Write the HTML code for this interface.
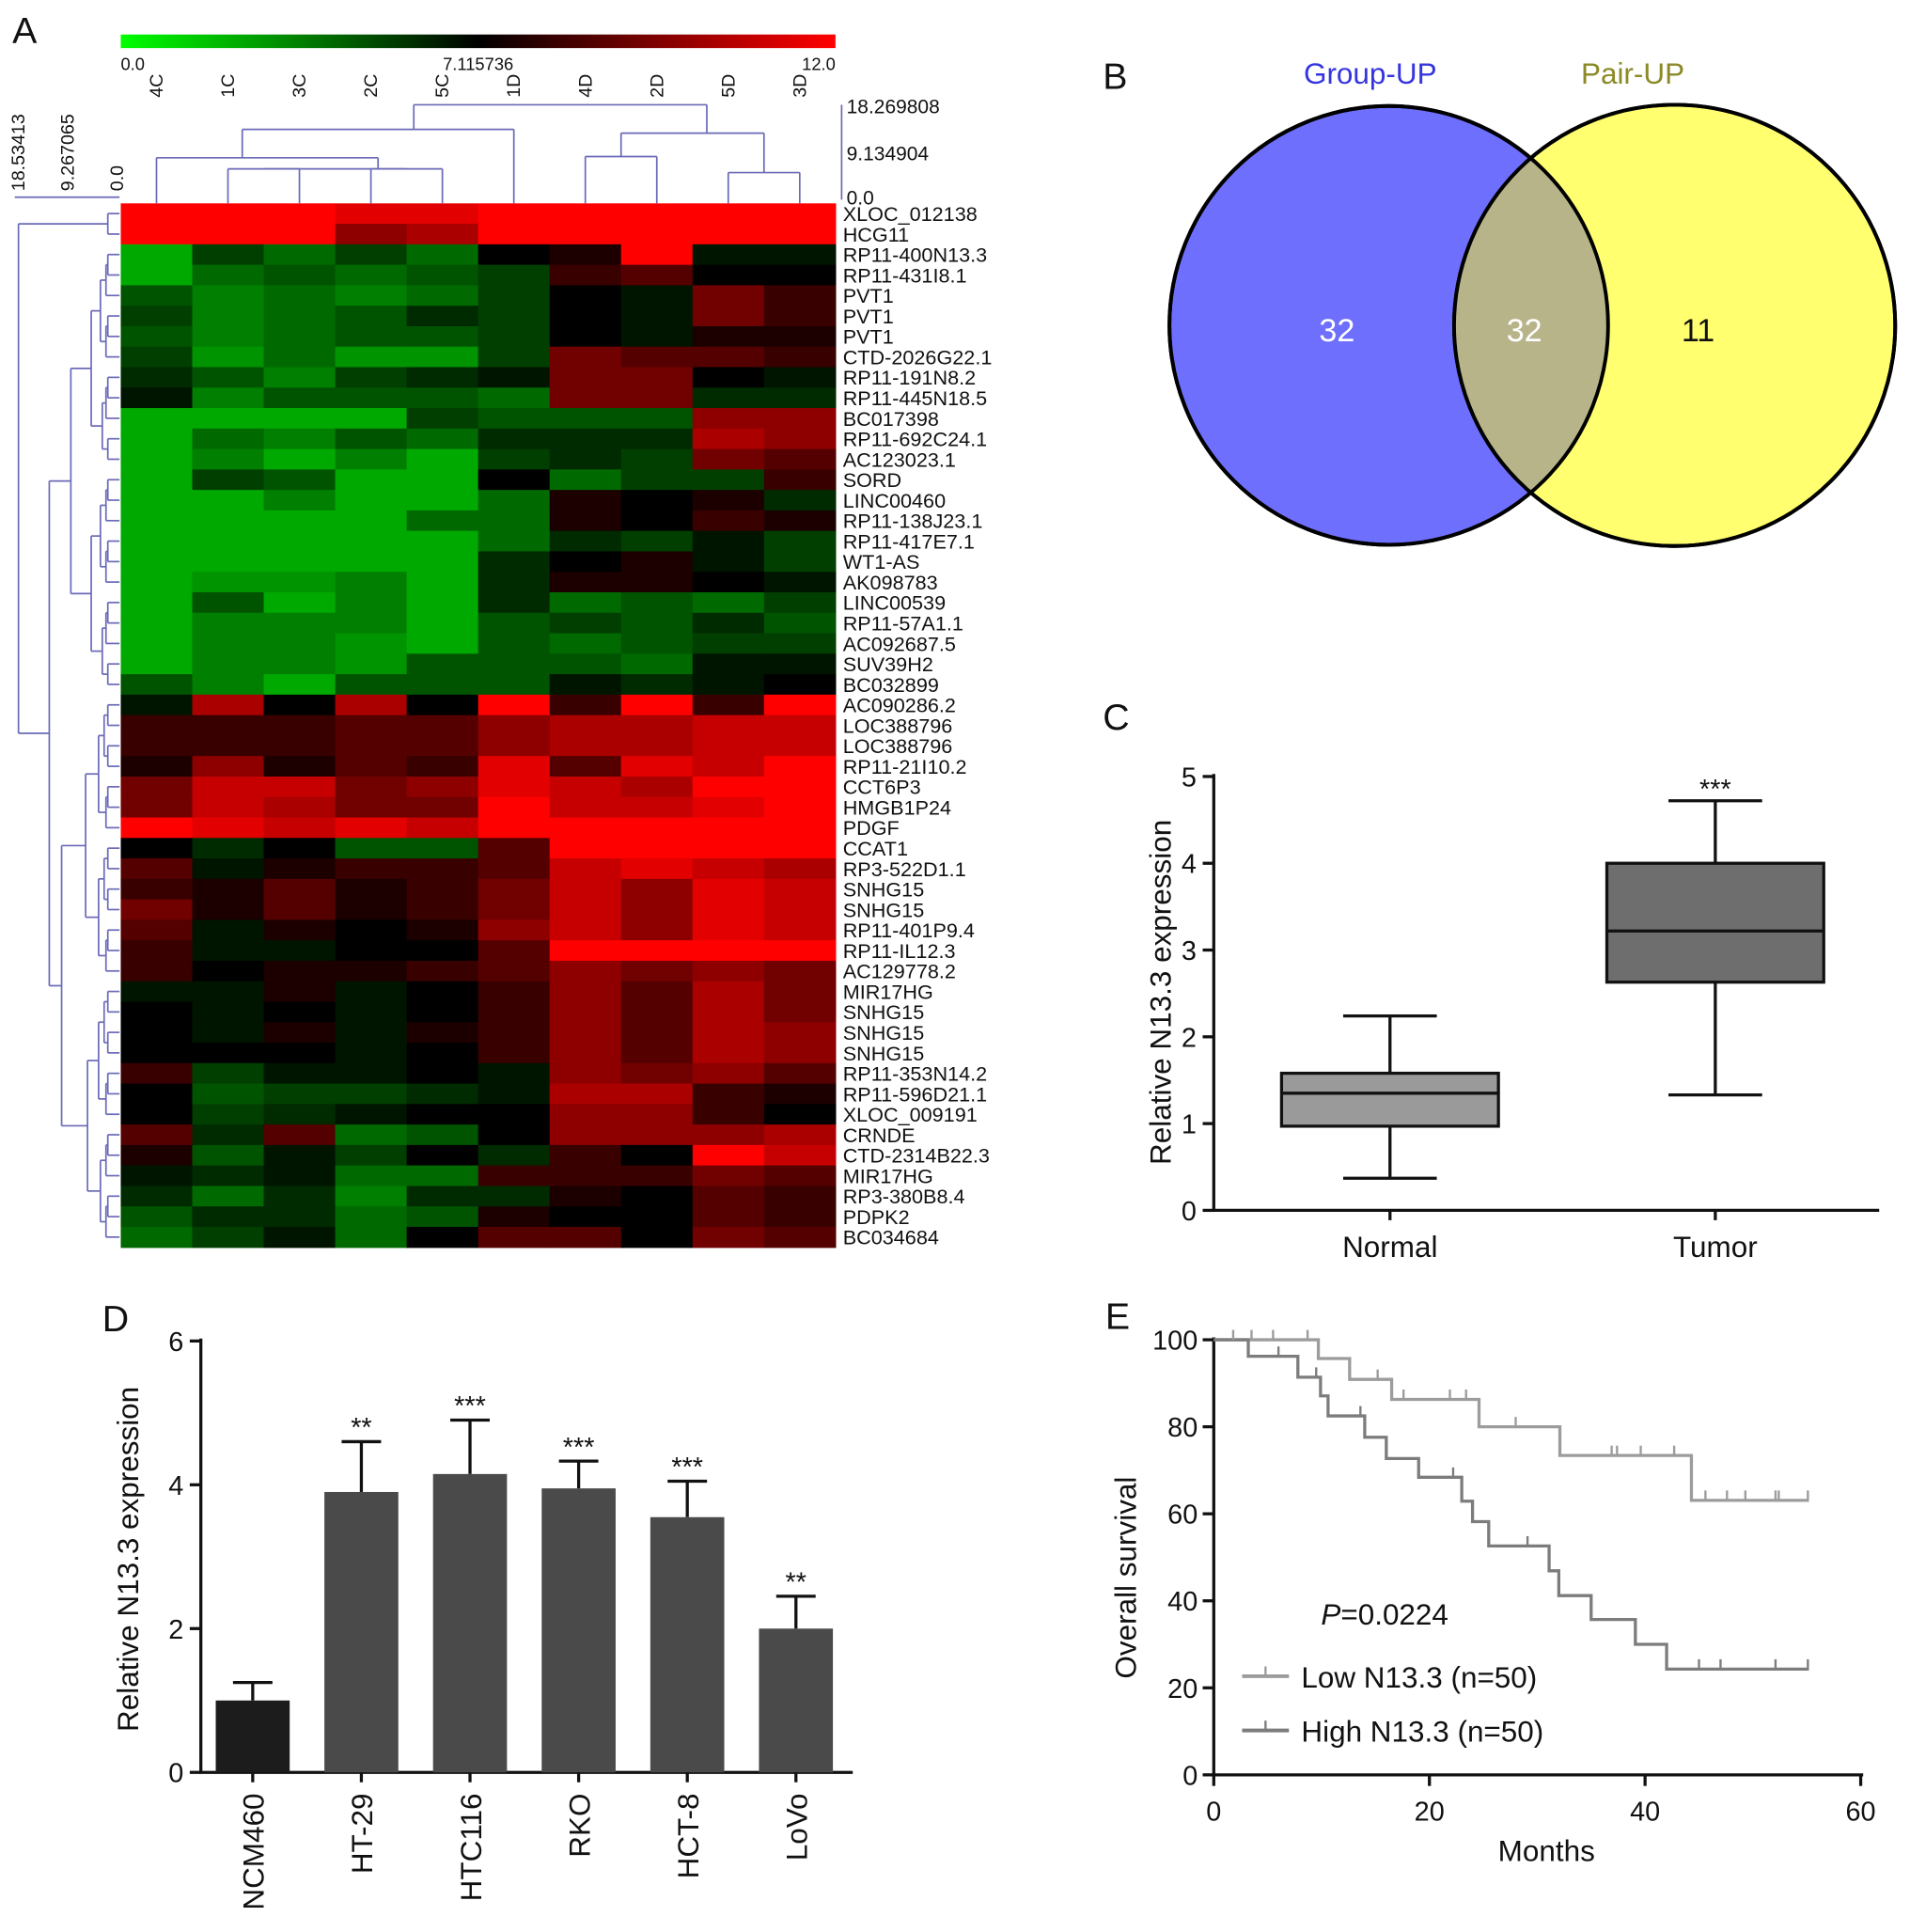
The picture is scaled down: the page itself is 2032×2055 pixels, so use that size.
<!DOCTYPE html>
<html><head><meta charset="utf-8"><style>
html,body{margin:0;padding:0;background:#fff}
svg{display:block;font-family:"Liberation Sans",Arial,sans-serif}
</style></head><body>
<svg id="fig" xmlns="http://www.w3.org/2000/svg" width="2032" height="2055" viewBox="0 0 1550 1567.5" preserveAspectRatio="none">
<defs><linearGradient id="cb" x1="0" x2="1" y1="0" y2="0"><stop offset="0" stop-color="#00ff00"/><stop offset="0.5" stop-color="#000"/><stop offset="1" stop-color="#ff0000"/></linearGradient></defs>
<g id="pa"></g>
<g id="pb"></g>
<g id="pc"></g>
<g id="pd"></g>
<g id="pe"></g>
</svg>
<script>
// ---------- Panel A data ----------
const hmCols = ["4C","1C","3C","2C","5C","1D","4D","2D","5D","3D"];
const hmRows = ["XLOC_012138","HCG11","RP11-400N13.3","RP11-431I8.1","PVT1","PVT1","PVT1","CTD-2026G22.1","RP11-191N8.2","RP11-445N18.5","BC017398","RP11-692C24.1","AC123023.1","SORD","LINC00460","RP11-138J23.1","RP11-417E7.1","WT1-AS","AK098783","LINC00539","RP11-57A1.1","AC092687.5","SUV39H2","BC032899","AC090286.2","LOC388796","LOC388796","RP11-21I10.2","CCT6P3","HMGB1P24","PDGF","CCAT1","RP3-522D1.1","SNHG15","SNHG15","RP11-401P9.4","RP11-IL12.3","AC129778.2","MIR17HG","SNHG15","SNHG15","SNHG15","RP11-353N14.2","RP11-596D21.1","XLOC_009191","CRNDE","CTD-2314B22.3","MIR17HG","RP3-380B8.4","PDPK2","BC034684"];
const hmVals = [
[9,9,9,8,8,9,9,9,9,9],[9,9,9,5,6,9,9,9,9,9],[-8,-3,-5,-3,-5,0,1,9,-1,-1],[-8,-5,-4,-5,-4,-3,2,3,0,0],
[-4,-6,-5,-6,-5,-3,0,-1,4,2],[-3,-6,-5,-4,-2,-3,0,-1,4,2],[-4,-6,-5,-4,-4,-3,0,-1,1,1],[-3,-7,-5,-7,-7,-3,4,3,3,2],
[-2,-4,-6,-3,-2,-1,4,4,0,-1],[-1,-6,-4,-4,-4,-5,4,4,-2,-2],[-8,-8,-8,-8,-3,-4,-4,-4,5,5],[-8,-5,-6,-4,-5,-2,-2,-2,6,5],
[-8,-6,-8,-6,-8,-3,-2,-3,4,3],[-8,-3,-4,-8,-8,0,-5,-3,-3,2],[-8,-8,-6,-8,-8,-5,1,0,1,-2],[-8,-8,-8,-8,-5,-5,1,0,2,1],
[-8,-8,-8,-8,-8,-5,-2,-3,-1,-3],[-8,-8,-8,-8,-8,-2,0,1,-1,-3],[-8,-7,-7,-6,-8,-2,1,1,0,-1],[-8,-4,-8,-6,-8,-2,-5,-4,-5,-3],
[-8,-6,-6,-6,-8,-4,-3,-4,-2,-4],[-8,-6,-6,-7,-8,-4,-5,-4,-3,-3],[-8,-6,-6,-7,-4,-4,-4,-5,-1,-1],[-4,-6,-8,-4,-4,-4,-1,-2,-1,0],
[-1,6,0,6,0,9,2,9,2,9],[2,2,2,3,3,5,6,6,7,7],[2,2,2,3,3,5,6,6,7,7],[1,5,1,3,2,8,3,8,7,9],
[4,7,7,4,5,8,7,6,9,9],[4,7,6,4,4,9,7,7,8,9],[9,8,7,8,7,9,9,9,9,9],[0,-2,0,-4,-4,3,9,9,9,9],
[3,-1,1,2,2,3,7,8,7,6],[2,1,3,1,2,4,7,5,8,7],[4,1,3,1,2,4,7,5,8,7],[3,-1,1,0,1,5,7,5,8,7],
[2,-1,-1,0,0,3,9,9,9,9],[2,0,1,1,2,3,5,4,5,4],[-1,-1,1,-1,0,2,5,3,6,4],[0,-1,0,-1,0,2,5,3,6,4],
[0,-1,1,-1,1,2,5,3,6,5],[0,0,0,-1,0,2,5,3,6,5],[2,-3,-1,-1,0,-1,5,4,5,3],[0,-4,-3,-3,-2,-1,6,6,2,1],
[0,-3,-2,-1,0,0,5,5,2,0],[3,-2,3,-5,-4,0,5,5,5,6],[1,-4,-1,-3,0,-2,2,0,9,7],[-1,-2,-1,-5,-5,2,2,2,4,3],
[-2,-5,-2,-6,-2,-2,1,0,3,2],[-4,-2,-2,-5,-4,1,0,0,3,2],[-5,-3,-1,-5,0,3,3,0,4,3]];
// ---------- Panel B ----------
const vennCounts = [32, 32, 11];
// ---------- Panel C ----------
const boxCats = ["Normal","Tumor"];
const boxMin = [0.37, 1.33];
const boxQ1 = [0.97, 2.63];
const boxMed = [1.35, 3.22];
const boxQ3 = [1.58, 4.0];
const boxMax = [2.24, 4.72];
// ---------- Panel D ----------
const barCats = ["NCM460","HT-29","HTC116","RKO","HCT-8","LoVo"];
const barVals = [1.0, 3.9, 4.15, 3.95, 3.55, 2.0];
const barErr = [0.25, 0.7, 0.75, 0.38, 0.5, 0.45];
const barSig = ["", "**", "***", "***", "***", "**"];
// ---------- Panel E ----------
const lowT = [0, 9.7, 12.6, 16.5, 24.6, 32.1, 44.3, 55.2];
const lowS = [100, 95.7, 90.9, 86.3, 80, 73.4, 63.1, 63.1];
const lowCensT = [1.8, 3.5, 5.5, 8.7, 15.2, 17.6, 21.9, 23.4, 28, 36.9, 37.4, 39.6, 42.7, 45.6, 47.6, 49.3, 52.1, 52.4, 55.1];
const highT = [0, 3.2, 7.8, 9.9, 10.6, 14.0, 16.0, 19.0, 23.0, 24.0, 25.5, 31.1, 32.0, 35.0, 39.1, 42.0, 55.2];
const highS = [100, 96.2, 91.4, 87.1, 82.5, 77.6, 72.7, 68.4, 62.9, 58.2, 52.6, 46.9, 41.2, 35.7, 30, 24.3, 24.3];
const highCensT = [6.0, 9.5, 13.6, 22.2, 29.1, 45, 47, 52.1, 55.1];
const eXTicks = [0, 20, 40, 60];
const eYTicks = [0, 20, 40, 60, 80, 100];

const NS = "http://www.w3.org/2000/svg";
function el(parent, tag, attrs, text) {
  const e = document.createElementNS(NS, tag);
  for (const k in attrs) e.setAttribute(k, attrs[k]);
  if (text !== undefined) e.textContent = text;
  parent.appendChild(e);
  return e;
}
function txt(parent, x, y, s, size, opts) {
  const o = Object.assign({x: x, y: y, "font-size": size, fill: "#111"}, opts || {});
  return el(parent, "text", o, s);
}
function stepPath(ts, ss, fx, fy) {
  let d = "M" + fx(ts[0]) + "," + fy(ss[0]);
  for (let i = 1; i < ts.length; i++) { d += " H" + fx(ts[i]) + " V" + fy(ss[i]); }
  return d;
}
function survAt(ts, ss, t) { let v = ss[0]; for (let i = 0; i < ts.length; i++) if (ts[i] <= t) v = ss[i]; return v; }

// ===== Panel A =====
const A = document.getElementById("pa");
let t = txt(A, 10, 35, "A", 30);


const hx0 = 98, hx1 = 678, hy0 = 165, hy1 = 1012;
const cw = (hx1 - hx0) / hmCols.length, rh = (hy1 - hy0) / hmRows.length;
let cb = el(A, "rect", {x: 98, y: 28, width: 580, height: 11, fill: "url(#cb)"});


[["0.0", 98, "start"], ["7.115736", 388, "middle"], ["12.0", 678, "end"]].forEach(a => {
  const e = txt(A, a[1], 57, a[0], 14, {"text-anchor": a[2]});
  
  
});
function col(v) {
  const f = Math.min(1, Math.abs(v) / 9);
  return v >= 0 ? "rgb(" + Math.round(255 * f) + ",0,0)" : "rgb(0," + Math.round(190 * f) + ",0)";
}
hmRows.forEach((name, r) => {
  hmVals[r].forEach((v, c) => {
    const e = el(A, "rect", {x: hx0 + c * cw, y: hy0 + r * rh, width: cw + 0.5, height: rh + 0.5, fill: col(v)});
    
    
  });
  const l = txt(A, 684, hy0 + (r + 0.5) * rh + 6, name, 16.5);
  
  
});
hmCols.forEach((c, i) => {
  const x = hx0 + (i + 0.5) * cw + 5;
  const e = txt(A, x, 60, c, 15, {transform: "rotate(-90 " + x + " 60)", "text-anchor": "end"});
  
  
});
const dcol = "#6a6ab8";
function ln(g, x1, y1, x2, y2, nm) {
  const e = el(g, "line", {x1: x1, y1: y1, x2: x2, y2: y2, stroke: dcol, "stroke-width": 1.3});
  
  
}
// column dendrogram
const cx = i => hx0 + (i + 0.5) * cw;
function cnode(xl, xr, y, yl, yr) { ln(A, xl, y, xr, y, "column-dendrogram"); ln(A, xl, y, xl, yl, "column-dendrogram"); ln(A, xr, y, xr, yr, "column-dendrogram"); }
cnode(cx(0), cx(3.1), 128, 165, 137);
cnode(cx(1), cx(2), 137, 165, 165);
cnode(cx(3), cx(4), 137, 165, 165);
cnode(cx(1.5), cx(3.5), 137, 137, 137);
cnode(cx(1.2), cx(5), 105, 128, 165);
cnode(cx(6), cx(7), 127, 165, 165);
cnode(cx(8), cx(9), 140, 165, 165);
cnode(cx(6.5), cx(8.5), 108, 127, 140);
cnode(cx(3.6), cx(7.7), 85, 105, 108);
ln(A, 683, 85, 683, 162, "column-dendrogram-axis");
[["18.269808", 92], ["9.134904", 130], ["0.0", 166]].forEach(a => {
  const e = txt(A, 687, a[1], a[0], 16);
  
  
});
// row dendrogram
ln(A, 12, 160, 97, 160, "row-dendrogram-axis");
[["18.53413", 20], ["9.267065", 60], ["0.0", 100]].forEach(a => {
  const e = txt(A, a[1], 155, a[0], 15, {transform: "rotate(-90 " + a[1] + " 155)"});
  
  
});
const ry = r => hy0 + (r + 0.5) * rh;
function rtree(a, b, xr) {
  if (a === b) return {y: ry(a), x: 97};
  const m = Math.floor((a + b) / 2);
  const span = b - a;
  const x = 97 - Math.min(80, 8 + span * 1.5) * (xr || 1);
  const L = rtree(a, m), R = rtree(m + 1, b);
  ln(A, x, L.y, x, R.y, "row-dendrogram");
  ln(A, x, L.y, L.x, L.y, "row-dendrogram");
  ln(A, x, R.y, R.x, R.y, "row-dendrogram");
  return {y: (L.y + R.y) / 2, x: x};
}
const t1 = rtree(0, 1), t2 = rtree(2, 23), t3 = rtree(24, 50);
const n23x = 40;
ln(A, n23x, t2.y, n23x, t3.y, "row-dendrogram"); ln(A, n23x, t2.y, t2.x, t2.y, "row-dendrogram"); ln(A, n23x, t3.y, t3.x, t3.y, "row-dendrogram");
const my = (t2.y + t3.y) / 2;
ln(A, 15, t1.y, 15, my, "row-dendrogram"); ln(A, 15, t1.y, t1.x, t1.y, "row-dendrogram"); ln(A, 15, my, n23x, my, "row-dendrogram");

// ===== Panel B =====
const B = document.getElementById("pb");
t = txt(B, 895, 72, "B", 30);  
let c1 = el(B, "circle", {cx: 1127, cy: 264, r: 178, fill: "#6f6ffd", stroke: "#000", "stroke-width": 3});
 
let c2 = el(B, "circle", {cx: 1359, cy: 264, r: 179, fill: "#ffff70", stroke: "#000", "stroke-width": 3});
 
el(B, "clipPath", {id: "cl"}).appendChild(document.createElementNS(NS, "circle"));
const cc = document.querySelector("#cl circle"); cc.setAttribute("cx", 1127); cc.setAttribute("cy", 264); cc.setAttribute("r", 178);
let ov = el(B, "circle", {cx: 1359, cy: 264, r: 179, fill: "#b8b48a", "clip-path": "url(#cl)"});
 
el(B, "circle", {cx: 1127, cy: 264, r: 178, fill: "none", stroke: "#000", "stroke-width": 3});
el(B, "circle", {cx: 1359, cy: 264, r: 179, fill: "none", stroke: "#000", "stroke-width": 3});
t = txt(B, 1112, 68, "Group-UP", 24, {fill: "#3535e0", "text-anchor": "middle"});  
t = txt(B, 1325, 68, "Pair-UP", 24, {fill: "#8c8a28", "text-anchor": "middle"});  
[[1085, "#fff"], [1237, "#fff"], [1378, "#111"]].forEach((p, i) => {
  const e = txt(B, p[0], 277, String(vennCounts[i]), 26, {fill: p[1], "text-anchor": "middle"});
   
});

// ===== Panel C =====
const C = document.getElementById("pc");
t = txt(C, 895, 592, "C", 30);  
const cy0 = 982, cyS = (982 - 630) / 5, cX = 985;
const fyc = v => cy0 - v * cyS;
const boxX = [1128, 1392], boxW = 176, boxFill = ["#9a9a9a", "#6e6e6e"];
let ax = el(C, "path", {d: "M" + cX + ",628 V" + cy0 + " H1525", stroke: "#111", "stroke-width": 2.5, fill: "none"});
 
for (let v = 0; v <= 5; v++) {
  el(C, "line", {x1: cX - 9, x2: cX, y1: fyc(v), y2: fyc(v), stroke: "#111", "stroke-width": 2.5});
  const e = txt(C, cX - 14, fyc(v) + 8, String(v), 22, {"text-anchor": "end"});
   
}
t = txt(C, 950, 805, "Relative N13.3 expression", 24, {"text-anchor": "middle", transform: "rotate(-90 950 805)"});
 
boxCats.forEach((c, i) => {
  const x = boxX[i], g = el(C, "g", {});
   
  const s = {stroke: "#111", "stroke-width": 2.5};
  el(g, "line", Object.assign({x1: x, x2: x, y1: fyc(boxMin[i]), y2: fyc(boxMax[i])}, s));
  el(g, "line", Object.assign({x1: x - 38, x2: x + 38, y1: fyc(boxMin[i]), y2: fyc(boxMin[i])}, s));
  el(g, "line", Object.assign({x1: x - 38, x2: x + 38, y1: fyc(boxMax[i]), y2: fyc(boxMax[i])}, s));
  el(g, "rect", Object.assign({x: x - boxW / 2, y: fyc(boxQ3[i]), width: boxW, height: fyc(boxQ1[i]) - fyc(boxQ3[i]), fill: boxFill[i]}, s));
  el(g, "line", Object.assign({x1: x - boxW / 2, x2: x + boxW / 2, y1: fyc(boxMed[i]), y2: fyc(boxMed[i])}, s));
  el(C, "line", {x1: x, x2: x, y1: cy0, y2: cy0 + 8, stroke: "#111", "stroke-width": 2.5});
  const e = txt(C, x, 1020, c, 24, {"text-anchor": "middle"});  
});
t = txt(C, boxX[1], fyc(boxMax[1]) - 2, "***", 22, {"text-anchor": "middle"});  

// ===== Panel D =====
const D = document.getElementById("pd");
t = txt(D, 83, 1080, "D", 30);  
const dy0 = 1438, dyS = (1438 - 1088) / 6, dX = 163;
const fyd = v => dy0 - v * dyS;
ax = el(D, "path", {d: "M" + dX + ",1086 V" + dy0 + " H692", stroke: "#111", "stroke-width": 2.5, fill: "none"});
 
for (let v = 0; v <= 6; v += 2) {
  el(D, "line", {x1: dX - 9, x2: dX, y1: fyd(v), y2: fyd(v), stroke: "#111", "stroke-width": 2.5});
  const e = txt(D, dX - 14, fyd(v) + 8, String(v), 22, {"text-anchor": "end"});
   
}
t = txt(D, 112, 1265, "Relative N13.3 expression", 24, {"text-anchor": "middle", transform: "rotate(-90 112 1265)"});
 
const dBand = (692 - dX) / barCats.length;
barCats.forEach((c, i) => {
  const x = dX + dBand * (i + 0.5) - 2, w = 60;
  const ey = fyd(barVals[i] + barErr[i]);
  el(D, "line", {x1: x, x2: x, y1: ey, y2: fyd(barVals[i]), stroke: "#111", "stroke-width": 2.5});
  el(D, "line", {x1: x - 16, x2: x + 16, y1: ey, y2: ey, stroke: "#111", "stroke-width": 2.5});
  const b = el(D, "rect", {x: x - w / 2, y: fyd(barVals[i]), width: w, height: dy0 - fyd(barVals[i]), fill: i === 0 ? "#1c1c1c" : "#4a4a4a"});
   
  el(D, "line", {x1: x, x2: x, y1: dy0, y2: dy0 + 8, stroke: "#111", "stroke-width": 2.5});
  if (barSig[i]) {
    const s = txt(D, x, ey - 4, barSig[i], 22, {"text-anchor": "middle"});
     
  }
  const l = txt(D, x + 9, 1455, c, 24, {"text-anchor": "end", transform: "rotate(-90 " + (x + 9) + " 1455)"});
   
});

// ===== Panel E =====
const E = document.getElementById("pe");
t = txt(E, 897, 1078, "E", 30);  
const ex0 = 985, exS = (1510 - 985) / 60, ey0 = 1440, eyS = (1440 - 1087) / 100;
const fxe = m => ex0 + m * exS, fye = v => ey0 - v * eyS;
ax = el(E, "path", {d: "M" + ex0 + ",1085 V" + ey0 + " H1512", stroke: "#111", "stroke-width": 2.5, fill: "none"});
 
eYTicks.forEach(v => {
  el(E, "line", {x1: ex0 - 9, x2: ex0, y1: fye(v), y2: fye(v), stroke: "#111", "stroke-width": 2.5});
  const e = txt(E, ex0 - 13, fye(v) + 8, String(v), 22, {"text-anchor": "end"});
   
});
eXTicks.forEach(v => {
  el(E, "line", {x1: fxe(v), x2: fxe(v), y1: ey0, y2: ey0 + 9, stroke: "#111", "stroke-width": 2.5});
  const e = txt(E, fxe(v), 1477, String(v), 22, {"text-anchor": "middle"});
   
});
t = txt(E, 1255, 1510, "Months", 24, {"text-anchor": "middle"});  
t = txt(E, 922, 1280, "Overall survival", 24, {"text-anchor": "middle", transform: "rotate(-90 922 1280)"});  
const lowCol = "#9c9c9c", highCol = "#7c7c7c";
let p = el(E, "path", {d: stepPath(lowT, lowS, fxe, fye), stroke: lowCol, "stroke-width": 2.5, fill: "none"});
 
p = el(E, "path", {d: stepPath(highT, highS, fxe, fye), stroke: highCol, "stroke-width": 2.5, fill: "none"});
 
lowCensT.forEach(m => {
  const y = fye(survAt(lowT, lowS, m));
  const e = el(E, "line", {x1: fxe(m), x2: fxe(m), y1: y, y2: y - 8, stroke: lowCol, "stroke-width": 1.8});
   
});
highCensT.forEach(m => {
  const y = fye(survAt(highT, highS, m));
  const e = el(E, "line", {x1: fxe(m), x2: fxe(m), y1: y, y2: y - 8, stroke: highCol, "stroke-width": 1.8});
   
});
t = el(E, "text", {x: 1072, y: 1318, "font-size": 24, fill: "#111"});
 
el(t, "tspan", {"font-style": "italic"}, "P"); el(t, "tspan", {}, "=0.0224");
[[1360, lowCol, "Low N13.3 (n=50)"], [1404, highCol, "High N13.3 (n=50)"]].forEach((a, i) => {
  const g = el(E, "g", {});
   
  el(g, "line", {x1: 1008, x2: 1046, y1: a[0], y2: a[0], stroke: a[1], "stroke-width": 3});
  el(g, "line", {x1: 1027, x2: 1027, y1: a[0], y2: a[0] - 8, stroke: a[1], "stroke-width": 1.8});
  txt(g, 1056, a[0] + 9, a[2], 24);
});
</script>
</body></html>
